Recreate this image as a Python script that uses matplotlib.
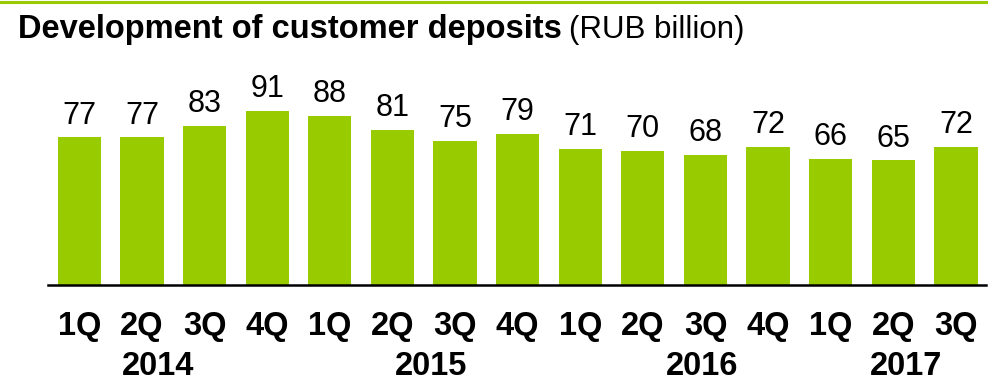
import matplotlib.pyplot as plt
from matplotlib.lines import Line2D

quarters = ['1Q', '2Q', '3Q', '4Q', '1Q', '2Q', '3Q', '4Q',
            '1Q', '2Q', '3Q', '4Q', '1Q', '2Q', '3Q']
deposits = [77, 77, 83, 91, 88, 81, 75, 79, 71, 70, 68, 72, 66, 65, 72]
years = ['2014', '2015', '2016', '2017']
year_pos = [1.26, 5.62, 9.94, 13.2]

green = '#99cc00'
plt.rcParams['font.family'] = ['Liberation Sans', 'DejaVu Sans']

fig = plt.figure(figsize=(9.88, 3.9), dpi=100)
ax = fig.add_axes([48 / 988, 105 / 390, 938 / 988, 225 / 390])

x = list(range(len(deposits)))
ax.bar(x, deposits, width=0.69, color=green)
ax.set_xlim(-0.5, 14.48)
ax.set_ylim(0, 117.4)

for xi, v in zip(x, deposits):
    ax.annotate(str(v), (xi, v), xytext=(0, 10), textcoords='offset points',
                ha='center', va='baseline', fontsize=22)

for xi, q in zip(x, quarters):
    ax.text(xi, -50 / 225, q, transform=ax.get_xaxis_transform(),
            ha='center', va='baseline', fontsize=23.5, fontweight='bold')
for xp, y in zip(year_pos, years):
    ax.text(xp, -90 / 225, y, transform=ax.get_xaxis_transform(),
            ha='center', va='baseline', fontsize=23.5, fontweight='bold')

for s in ['top', 'left', 'right']:
    ax.spines[s].set_visible(False)
ax.spines['bottom'].set_linewidth(1.8)
ax.set_xticks([])
ax.set_yticks([])

# title: bold part followed by the unit in regular weight
t1 = fig.text(18 / 988, 1 - 38 / 390, 'Development of customer deposits',
              fontsize=23.5, fontweight='bold', va='baseline')
r = fig.canvas.get_renderer()
bb = t1.get_window_extent(renderer=r)
fig.text((bb.x1 + 7) / 988, 1 - 38 / 390, '(RUB billion)',
         fontsize=22.5, va='baseline')

# green rule along the top edge
fig.add_artist(Line2D([0, 1], [1 - 1.5 / 390, 1 - 1.5 / 390],
                      transform=fig.transFigure, color=green, lw=2.2))

fig.savefig('out.png', dpi=100)
